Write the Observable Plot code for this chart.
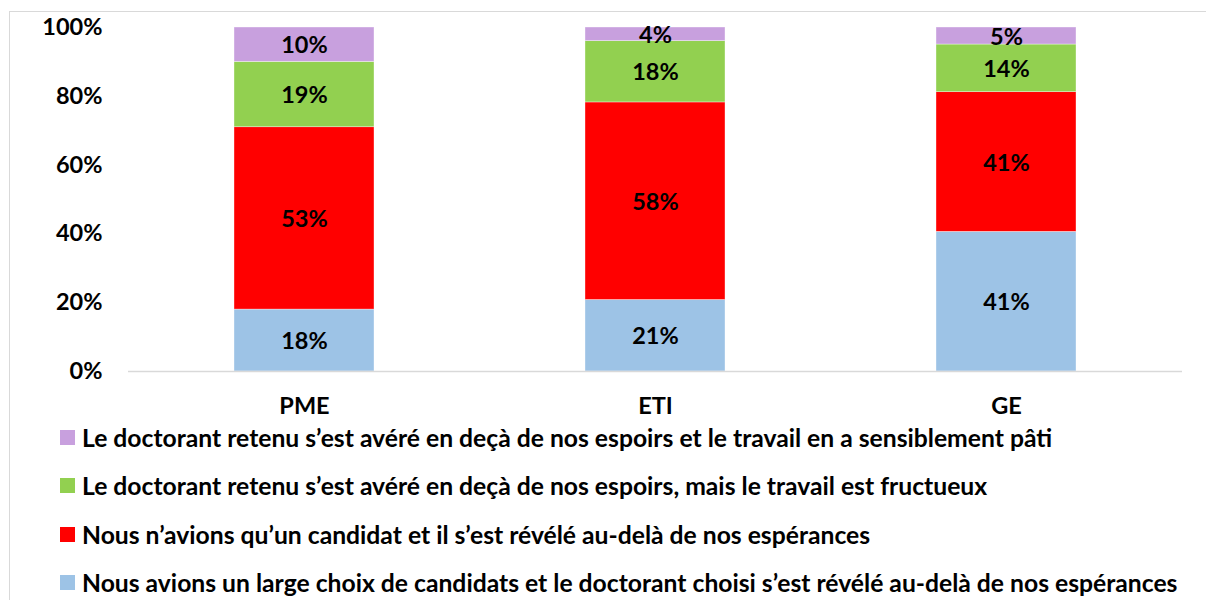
<!DOCTYPE html>
<html>
<head>
<meta charset="utf-8">
<script src="https://cdn.jsdelivr.net/npm/d3@7"></script>
<script src="https://cdn.jsdelivr.net/npm/@observablehq/plot@0.6"></script>
<style>
  html, body { margin: 0; padding: 0; background: #fff; }
  body { width: 1206px; height: 600px; overflow: hidden; position: relative; font-family: Lato, "Open Sans", sans-serif; }
  #frame { position: absolute; left: 9px; top: 11px; width: 1230px; height: 640px; border: 1px solid #d9d9d9; box-sizing: border-box; pointer-events: none; }
  #chart { position: absolute; left: 0; top: 0; }
  #legend { position: absolute; left: 0; top: 0; }
  .item { position: absolute; left: 60px; display: flex; align-items: center; font-weight: 700; font-size: 24.7px; color: #000; white-space: nowrap; }
  .sw { width: 15px; height: 15px; margin-right: 7px; flex: none; }
</style>
</head>
<body>
<div id="chart"></div>
<div id="legend"></div>
<div id="frame"></div>
<script>
const categories = ["PME", "ETI", "GE"];
const seriesNames = [
  "Nous avions un large choix de candidats et le doctorant choisi s\u2019est révélé au-delà de nos espérances",
  "Nous n\u2019avions qu\u2019un candidat et il s\u2019est révélé au-delà de nos espérances",
  "Le doctorant retenu s\u2019est avéré en deçà de nos espoirs, mais le travail est fructueux",
  "Le doctorant retenu s\u2019est avéré en deçà de nos espoirs et le travail en a sensiblement pâti"
];
const seriesColors = ["#9DC3E6", "#FF0000", "#92D050", "#C8A0DE"];
const largeChoix = [18, 21, 41];
const unCandidat = [53, 58, 41];
const fructueux = [19, 18, 14];
const pati = [10, 4, 5];
const yTicks = [0, 0.2, 0.4, 0.6, 0.8, 1];

const seriesValues = [largeChoix, unCandidat, fructueux, pati];
const data = [];
seriesValues.forEach((vals, si) => {
  categories.forEach((c, ci) => {
    data.push({cat: c, series: seriesNames[si], value: vals[ci], label: vals[ci] + "%"});
  });
});

const font = "Lato, 'Open Sans', sans-serif";
const chart = Plot.plot({
  width: 1206,
  height: 425,
  marginLeft: 128,
  marginRight: 24,
  marginTop: 27,
  marginBottom: 54,
  style: {fontFamily: font, fontWeight: 700, fontSize: "23.5px", color: "#000", background: "transparent"},
  x: {domain: categories, paddingInner: 0.6, paddingOuter: 0.3, label: null, tickSize: 0, tickPadding: 26},
  y: {domain: [0, 1], ticks: yTicks, tickFormat: d => Math.round(d * 100) + "%", label: null, tickSize: 0, tickPadding: 26},
  color: {domain: seriesNames, range: seriesColors},
  marks: [
    Plot.barY(data, Plot.stackY({x: "cat", y: "value", z: "series", fill: "series", offset: "normalize", stroke: "#fff", strokeWidth: 0.6, strokeOpacity: 0.6})),
    Plot.ruleY([0], {stroke: "#d9d9d9", strokeWidth: 1.5}),
    Plot.text(data, Plot.stackY({x: "cat", y: "value", z: "series", text: "label", offset: "normalize", fill: "#000", fontSize: 23.5, fontWeight: 700, dy: 1}))
  ]
});
document.getElementById("chart").appendChild(chart);

const legend = document.getElementById("legend");
const rowY = [437, 485, 534, 582];
const order = [3, 2, 1, 0];
order.forEach((si, i) => {
  const it = document.createElement("div");
  it.className = "item";
  it.style.top = (rowY[i] - 15) + "px";
  it.style.height = "30px";
  const sw = document.createElement("span");
  sw.className = "sw";
  sw.style.background = seriesColors[si];
  const tx = document.createElement("span");
  tx.textContent = seriesNames[si];
  it.appendChild(sw);
  it.appendChild(tx);
  legend.appendChild(it);
});
</script>
</body>
</html>
